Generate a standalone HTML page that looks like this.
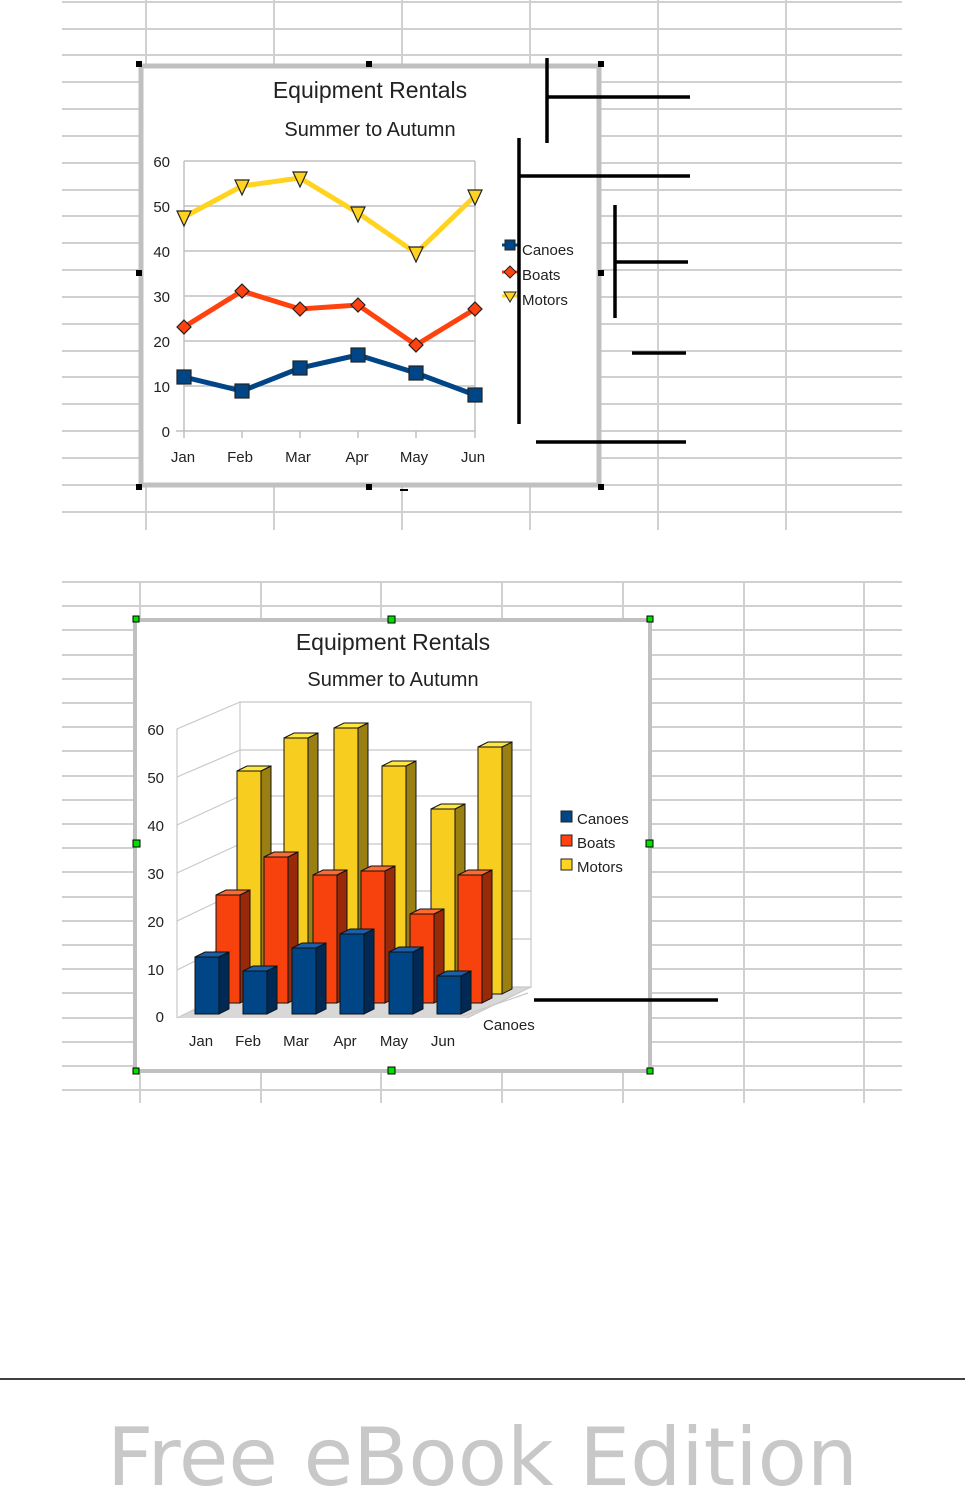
<!DOCTYPE html>
<html><head><meta charset="utf-8"><style>
html,body{margin:0;padding:0;background:#fff}
svg{display:block}
text{font-family:"Liberation Sans",sans-serif}
</style></head><body>
<svg width="965" height="1489" viewBox="0 0 965 1489" xmlns="http://www.w3.org/2000/svg">
<g stroke="#d0d0d0" stroke-width="2">
<line x1="62" y1="2" x2="902" y2="2"/><line x1="62" y1="29" x2="902" y2="29"/><line x1="62" y1="55" x2="902" y2="55"/><line x1="62" y1="82" x2="902" y2="82"/><line x1="62" y1="109" x2="902" y2="109"/><line x1="62" y1="136" x2="902" y2="136"/><line x1="62" y1="163" x2="902" y2="163"/><line x1="62" y1="190" x2="902" y2="190"/><line x1="62" y1="216" x2="902" y2="216"/><line x1="62" y1="243" x2="902" y2="243"/><line x1="62" y1="270" x2="902" y2="270"/><line x1="62" y1="297" x2="902" y2="297"/><line x1="62" y1="324" x2="902" y2="324"/><line x1="62" y1="351" x2="902" y2="351"/><line x1="62" y1="377" x2="902" y2="377"/><line x1="62" y1="404" x2="902" y2="404"/><line x1="62" y1="431" x2="902" y2="431"/><line x1="62" y1="458" x2="902" y2="458"/><line x1="62" y1="485" x2="902" y2="485"/><line x1="62" y1="512" x2="902" y2="512"/>
<line x1="146" y1="0" x2="146" y2="530"/><line x1="274" y1="0" x2="274" y2="530"/><line x1="402" y1="0" x2="402" y2="530"/><line x1="530" y1="0" x2="530" y2="530"/><line x1="658" y1="0" x2="658" y2="530"/><line x1="786" y1="0" x2="786" y2="530"/>
</g>
<rect x="141" y="66" width="458" height="419" fill="#fff" stroke="#c0c0c0" stroke-width="5"/>
<g fill="#000"><rect x="136" y="61" width="6" height="6"/><rect x="366" y="61" width="6" height="6"/><rect x="598" y="61" width="6" height="6"/><rect x="136" y="270" width="6" height="6"/><rect x="598" y="270" width="6" height="6"/><rect x="136" y="484" width="6" height="6"/><rect x="366" y="484" width="6" height="6"/><rect x="598" y="484" width="6" height="6"/><rect x="400" y="489" width="8" height="2"/></g>
<text x="370" y="98" font-size="23" text-anchor="middle" fill="#222">Equipment Rentals</text>
<text x="370" y="136" font-size="20" text-anchor="middle" fill="#222">Summer to Autumn</text>
<g stroke="#c0c0c0" stroke-width="1.5">
<line x1="184" y1="161" x2="475" y2="161"/><line x1="184" y1="206" x2="475" y2="206"/><line x1="184" y1="251" x2="475" y2="251"/><line x1="184" y1="296" x2="475" y2="296"/><line x1="184" y1="341" x2="475" y2="341"/><line x1="184" y1="386" x2="475" y2="386"/><line x1="176" y1="431" x2="475" y2="431"/>
<line x1="184" y1="161" x2="184" y2="438"/><line x1="475" y1="161" x2="475" y2="438"/>
<line x1="242" y1="431" x2="242" y2="438"/><line x1="300" y1="431" x2="300" y2="438"/><line x1="358" y1="431" x2="358" y2="438"/><line x1="416" y1="431" x2="416" y2="438"/>
</g>
<g font-size="15" fill="#222" text-anchor="end"><text x="170" y="167">60</text><text x="170" y="212">50</text><text x="170" y="257">40</text><text x="170" y="302">30</text><text x="170" y="347">20</text><text x="170" y="392">10</text><text x="170" y="437">0</text></g>
<g font-size="15" fill="#222" text-anchor="middle"><text x="183" y="462">Jan</text><text x="240" y="462">Feb</text><text x="298" y="462">Mar</text><text x="357" y="462">Apr</text><text x="414" y="462">May</text><text x="473" y="462">Jun</text></g>
<polyline points="184,217 242,186 300,178 358,213 416,253 475,196" fill="none" stroke="#ffd320" stroke-width="5"/>
<polyline points="184,327 242,291 300,309 358,305 416,345 475,309" fill="none" stroke="#ff420e" stroke-width="5"/>
<polyline points="184,377 242,391 300,368 358,355 416,373 475,395" fill="none" stroke="#004586" stroke-width="5"/>
<g fill="#ffd320" stroke="#222" stroke-width="1.2">
<polygon points="177,211 191,211 184,226"/><polygon points="235,180 249,180 242,195"/><polygon points="293,172 307,172 300,187"/><polygon points="351,207 365,207 358,222"/><polygon points="409,247 423,247 416,262"/><polygon points="468,190 482,190 475,205"/></g>
<g fill="#ff420e" stroke="#222" stroke-width="1.2">
<polygon points="184,320 191,327 184,334 177,327"/><polygon points="242,284 249,291 242,298 235,291"/><polygon points="300,302 307,309 300,316 293,309"/><polygon points="358,298 365,305 358,312 351,305"/><polygon points="416,338 423,345 416,352 409,345"/><polygon points="475,302 482,309 475,316 468,309"/></g>
<g fill="#004586" stroke="#222" stroke-width="1.2">
<rect x="177" y="370" width="14" height="14"/><rect x="235" y="384" width="14" height="14"/><rect x="293" y="361" width="14" height="14"/><rect x="351" y="348" width="14" height="14"/><rect x="409" y="366" width="14" height="14"/><rect x="468" y="388" width="14" height="14"/></g>
<line x1="502" y1="245" x2="518" y2="245" stroke="#004586" stroke-width="3"/><rect x="505" y="240" width="10" height="10" fill="#004586" stroke="#222"/>
<line x1="502" y1="272" x2="518" y2="272" stroke="#ff420e" stroke-width="3"/><polygon points="510,266 516,272 510,278 504,272" fill="#ff420e" stroke="#222"/>
<line x1="502" y1="296" x2="518" y2="296" stroke="#ffd320" stroke-width="3"/><polygon points="504,292 516,292 510,302" fill="#ffd320" stroke="#222"/>
<g font-size="15" fill="#222"><text x="522" y="255">Canoes</text><text x="522" y="280">Boats</text><text x="522" y="305">Motors</text></g>
<g stroke="#000" stroke-width="3.5">
<line x1="547" y1="58" x2="547" y2="143"/><line x1="547" y1="97" x2="690" y2="97"/>
<line x1="519" y1="138" x2="519" y2="424"/><line x1="519" y1="176" x2="690" y2="176"/>
<line x1="615" y1="205" x2="615" y2="318"/><line x1="615" y1="262" x2="688" y2="262"/>
<line x1="632" y1="353" x2="686" y2="353"/><line x1="536" y1="442" x2="686" y2="442"/>
</g>
<g stroke="#d0d0d0" stroke-width="2">
<line x1="62" y1="582" x2="902" y2="582"/><line x1="62" y1="606" x2="902" y2="606"/><line x1="62" y1="630" x2="902" y2="630"/><line x1="62" y1="655" x2="902" y2="655"/><line x1="62" y1="679" x2="902" y2="679"/><line x1="62" y1="703" x2="902" y2="703"/><line x1="62" y1="727" x2="902" y2="727"/><line x1="62" y1="751" x2="902" y2="751"/><line x1="62" y1="776" x2="902" y2="776"/><line x1="62" y1="800" x2="902" y2="800"/><line x1="62" y1="824" x2="902" y2="824"/><line x1="62" y1="848" x2="902" y2="848"/><line x1="62" y1="872" x2="902" y2="872"/><line x1="62" y1="897" x2="902" y2="897"/><line x1="62" y1="921" x2="902" y2="921"/><line x1="62" y1="945" x2="902" y2="945"/><line x1="62" y1="969" x2="902" y2="969"/><line x1="62" y1="993" x2="902" y2="993"/><line x1="62" y1="1018" x2="902" y2="1018"/><line x1="62" y1="1042" x2="902" y2="1042"/><line x1="62" y1="1066" x2="902" y2="1066"/><line x1="62" y1="1090" x2="902" y2="1090"/>
<line x1="140" y1="582" x2="140" y2="1103"/><line x1="261" y1="582" x2="261" y2="1103"/><line x1="381" y1="582" x2="381" y2="1103"/><line x1="502" y1="582" x2="502" y2="1103"/><line x1="623" y1="582" x2="623" y2="1103"/><line x1="744" y1="582" x2="744" y2="1103"/><line x1="864" y1="582" x2="864" y2="1103"/>
</g>
<rect x="135" y="620" width="515" height="451" fill="#fff" stroke="#c0c0c0" stroke-width="4"/>
<g fill="#00e000" stroke="#000" stroke-width="1"><rect x="133" y="616" width="6" height="6"/><rect x="388" y="616" width="7" height="7"/><rect x="647" y="616" width="6" height="6"/><rect x="133" y="840" width="7" height="7"/><rect x="646" y="840" width="7" height="7"/><rect x="133" y="1068" width="6" height="6"/><rect x="388" y="1067" width="7" height="7"/><rect x="647" y="1068" width="6" height="6"/></g>
<text x="393" y="650" font-size="23" text-anchor="middle" fill="#222">Equipment Rentals</text>
<text x="393" y="686" font-size="20" text-anchor="middle" fill="#222">Summer to Autumn</text>
<polygon points="177,1018 467,1018 531,987 240,987" fill="#d8d8d8"/>
<g stroke="#c8c8c8" stroke-width="1.2" fill="none">
<polygon points="240,702 531,702 531,987 240,987"/>
<polyline points="177,1018 177,729 240,702"/>
<line x1="177" y1="777" x2="240" y2="750"/><line x1="177" y1="825" x2="240" y2="796"/><line x1="177" y1="873" x2="240" y2="844"/><line x1="177" y1="921" x2="240" y2="891"/><line x1="177" y1="970" x2="240" y2="939"/><line x1="177" y1="1018" x2="240" y2="987"/>
<line x1="240" y1="750" x2="531" y2="750"/><line x1="240" y1="796" x2="531" y2="796"/><line x1="240" y1="844" x2="531" y2="844"/><line x1="240" y1="891" x2="531" y2="891"/><line x1="240" y1="939" x2="531" y2="939"/>
<line x1="467" y1="1018" x2="531" y2="987"/><line x1="462" y1="1016" x2="528" y2="993"/>
</g>
<g font-size="15" fill="#222" text-anchor="end"><text x="164" y="735">60</text><text x="164" y="783">50</text><text x="164" y="831">40</text><text x="164" y="879">30</text><text x="164" y="927">20</text><text x="164" y="975">10</text><text x="164" y="1022">0</text></g>
<g font-size="15" fill="#222" text-anchor="middle"><text x="201" y="1046">Jan</text><text x="248" y="1046">Feb</text><text x="296" y="1046">Mar</text><text x="345" y="1046">Apr</text><text x="394" y="1046">May</text><text x="443" y="1046">Jun</text></g>
<text x="483" y="1030" font-size="15" fill="#222">Canoes</text>
<g stroke="#111" stroke-width="1">
<g fill="#f7cd20"><rect x="237" y="771" width="24" height="223"/><rect x="284" y="738" width="24" height="256"/><rect x="334" y="728" width="24" height="266"/><rect x="382" y="766" width="24" height="228"/><rect x="431" y="809" width="24" height="185"/><rect x="478" y="747" width="24" height="247"/></g>
<g fill="#9a7f12"><polygon points="261,771 271,766 271,989 261,994"/><polygon points="308,738 318,733 318,989 308,994"/><polygon points="358,728 368,723 368,989 358,994"/><polygon points="406,766 416,761 416,989 406,994"/><polygon points="455,809 465,804 465,989 455,994"/><polygon points="502,747 512,742 512,989 502,994"/></g>
<g fill="#ffe640"><polygon points="237,771 247,766 271,766 261,771"/><polygon points="284,738 294,733 318,733 308,738"/><polygon points="334,728 344,723 368,723 358,728"/><polygon points="382,766 392,761 416,761 406,766"/><polygon points="431,809 441,804 465,804 455,809"/><polygon points="478,747 488,742 512,742 502,747"/></g>
<g fill="#f8420e"><rect x="216" y="895" width="24" height="108"/><rect x="264" y="857" width="24" height="146"/><rect x="313" y="875" width="24" height="128"/><rect x="361" y="871" width="24" height="132"/><rect x="410" y="914" width="24" height="89"/><rect x="458" y="875" width="24" height="128"/></g>
<g fill="#982a0a"><polygon points="240,895 250,890 250,998 240,1003"/><polygon points="288,857 298,852 298,998 288,1003"/><polygon points="337,875 347,870 347,998 337,1003"/><polygon points="385,871 395,866 395,998 385,1003"/><polygon points="434,914 444,909 444,998 434,1003"/><polygon points="482,875 492,870 492,998 482,1003"/></g>
<g fill="#ff6a30"><polygon points="216,895 226,890 250,890 240,895"/><polygon points="264,857 274,852 298,852 288,857"/><polygon points="313,875 323,870 347,870 337,875"/><polygon points="361,871 371,866 395,866 385,871"/><polygon points="410,914 420,909 444,909 434,914"/><polygon points="458,875 468,870 492,870 482,875"/></g>
<g fill="#004586"><rect x="195" y="957" width="24" height="57"/><rect x="243" y="971" width="24" height="43"/><rect x="292" y="948" width="24" height="66"/><rect x="340" y="934" width="24" height="80"/><rect x="389" y="952" width="24" height="62"/><rect x="437" y="976" width="24" height="38"/></g>
<g fill="#002a55"><polygon points="219,957 229,952 229,1009 219,1014"/><polygon points="267,971 277,966 277,1009 267,1014"/><polygon points="316,948 326,943 326,1009 316,1014"/><polygon points="364,934 374,929 374,1009 364,1014"/><polygon points="413,952 423,947 423,1009 413,1014"/><polygon points="461,976 471,971 471,1009 461,1014"/></g>
<g fill="#1a5fa8"><polygon points="195,957 205,952 229,952 219,957"/><polygon points="243,971 253,966 277,966 267,971"/><polygon points="292,948 302,943 326,943 316,948"/><polygon points="340,934 350,929 374,929 364,934"/><polygon points="389,952 399,947 423,947 413,952"/><polygon points="437,976 447,971 471,971 461,976"/></g>
</g>
<rect x="561" y="811" width="11" height="11" fill="#004586" stroke="#222"/><rect x="561" y="835" width="11" height="11" fill="#ff420e" stroke="#222"/><rect x="561" y="859" width="11" height="11" fill="#ffd320" stroke="#222"/>
<g font-size="15" fill="#222"><text x="577" y="824">Canoes</text><text x="577" y="848">Boats</text><text x="577" y="872">Motors</text></g>
<line x1="534" y1="1000" x2="718" y2="1000" stroke="#000" stroke-width="3.5"/>
<line x1="0" y1="1379" x2="965" y2="1379" stroke="#000" stroke-width="1.5"/>
<text x="107" y="1485" font-size="80" textLength="751" lengthAdjust="spacingAndGlyphs" fill="#c8c8c8" style="font-family:'DejaVu Sans',sans-serif">Free eBook Edition</text>
</svg>
</body></html>
